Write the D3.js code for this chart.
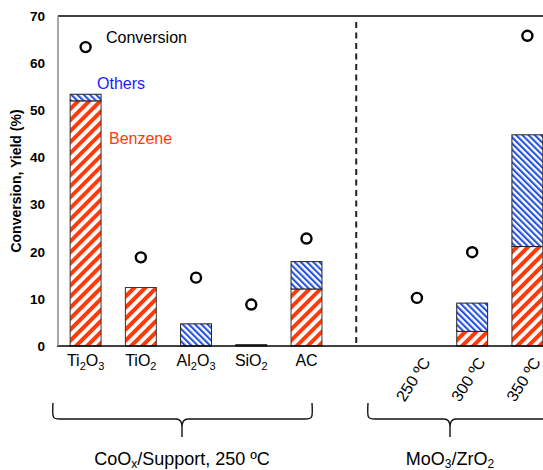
<!DOCTYPE html>
<html lang="en">
  <head>
    <meta charset="utf-8">
    <title>Conversion and yield</title>
    <style>
      body { margin: 0; background: #fff; }
      svg { display: block; font-family: Arial, "Liberation Sans", sans-serif; }
    </style>
  </head>
  <body>
    <div id="chart"></div>
  </body>
  <script src="https://cdnjs.cloudflare.com/ajax/libs/d3/7.8.5/d3.min.js"></script>
  <script type="text/javascript">

    // "_x" means a subscript character, the empty key is the gap before the dashed line
    const categories = ['Ti_2O_3', 'TiO_2', 'Al_2O_3', 'SiO_2', 'AC', '', '250 ºC', '300 ºC', '350 ºC']
    const rotatedLabels = ['250 ºC', '300 ºC', '350 ºC']
    const benzene    = [52.0, 12.4, 0,   0.3, 12.1, 0, 0,    3.1, 21.1]
    const others     = [1.4,  0,    4.7, 0,   5.8,  0, 0,    6.0, 23.7]
    const conversion = [63.4, 18.8, 14.5, 8.8, 22.8, null, 10.2, 19.9, 65.8]
    const yTicks = [0, 10, 20, 30, 40, 50, 60, 70]

    const width = 543, height = 470
    const plot = { left: 58, top: 16, right: 555, bottom: 346 }

    const svg = d3.select('#chart').append('svg')
      .attr('width', width)
      .attr('height', height)

    const defs = svg.append('defs')
    stripes('red-stripes', '#ff3a0a', 7.8, 4, 45)
    stripes('blue-stripes', '#2452dc', 4.4, 2.1, -45)

    const x = d3.scaleBand()
      .domain(categories)
      .range([plot.left, plot.right])
      .paddingInner(0.44)
      .paddingOuter(0.22)

    const y = d3.scaleLinear()
      .domain([0, 70])
      .range([plot.bottom, plot.top])

    const rows = categories.map((c, i) => ({
      name: c, benzene: benzene[i], others: others[i], conversion: conversion[i]
    }))

    // y tick labels (no tick marks in the original)
    svg.append('g').selectAll('text')
      .data(yTicks)
      .join('text')
      .attr('x', 45)
      .attr('y', d => y(d))
      .attr('dy', '0.36em')
      .attr('text-anchor', 'end')
      .style('font-size', '13.5px')
      .style('font-weight', 'bold')
      .text(d => d)

    svg.append('text')
      .attr('transform', `translate(21, ${(y(0) + y(70)) / 2}) rotate(-90)`)
      .attr('text-anchor', 'middle')
      .style('font-size', '14px')
      .style('font-weight', 'bold')
      .text('Conversion, Yield (%)')

    // frame
    svg.append('line')
      .attr('x1', plot.left).attr('x2', plot.right)
      .attr('y1', plot.top).attr('y2', plot.top)
      .attr('stroke', '#000').attr('stroke-width', 1.5)

    // stacked bars
    const bars = svg.append('g')
    bars.selectAll('.benzene')
      .data(rows.filter(d => d.benzene > 0))
      .join('rect')
      .attr('class', 'benzene')
      .attr('x', d => x(d.name))
      .attr('width', x.bandwidth())
      .attr('y', d => y(d.benzene))
      .attr('height', d => y(0) - y(d.benzene))
      .attr('fill', d => d.benzene < 1 ? '#8a5a50' : 'url(#red-stripes)')
      .attr('stroke', '#333')
      .attr('stroke-width', 1)

    bars.selectAll('.others')
      .data(rows.filter(d => d.others > 0))
      .join('rect')
      .attr('class', 'others')
      .attr('x', d => x(d.name))
      .attr('width', x.bandwidth())
      .attr('y', d => y(d.benzene + d.others))
      .attr('height', d => y(d.benzene) - y(d.benzene + d.others))
      .attr('fill', 'url(#blue-stripes)')
      .attr('stroke', '#222')
      .attr('stroke-width', 1)

    svg.append('line')
      .attr('x1', plot.left - 1).attr('x2', plot.right)
      .attr('y1', plot.bottom).attr('y2', plot.bottom)
      .attr('stroke', '#000').attr('stroke-width', 1.5)
    svg.append('line')
      .attr('x1', plot.left).attr('x2', plot.left)
      .attr('y1', plot.top).attr('y2', plot.bottom)
      .attr('stroke', '#8a8a8a').attr('stroke-width', 1.5)

    // dashed separator in the gap slot
    const gapX = x('') + x.bandwidth() / 2 - 5.5
    svg.append('line')
      .attr('x1', gapX).attr('x2', gapX)
      .attr('y1', plot.top + 6).attr('y2', plot.bottom)
      .attr('stroke', '#222')
      .attr('stroke-width', 2)
      .attr('stroke-dasharray', '6,4.5')

    // conversion markers
    svg.append('g').selectAll('circle')
      .data(rows.filter(d => d.conversion != null))
      .join('circle')
      .attr('cx', d => x(d.name) + x.bandwidth() / 2)
      .attr('cy', d => y(d.conversion))
      .attr('r', 5)
      .attr('fill', '#fff')
      .attr('stroke', '#000')
      .attr('stroke-width', 2.4)

    // series labels
    const seriesLabels = [
      { text: 'Conversion', color: '#000', x: 106, y: 43 },
      { text: 'Others', color: '#1a1aff', x: 97, y: 89 },
      { text: 'Benzene', color: '#ff3a0a', x: 109, y: 144 }
    ]
    svg.append('g').selectAll('text')
      .data(seriesLabels)
      .join('text')
      .attr('x', d => d.x)
      .attr('y', d => d.y)
      .attr('fill', d => d.color)
      .style('font-size', '16px')
      .text(d => d.text)

    // category labels
    const catG = svg.append('g')
    categories.filter(c => c && !rotatedLabels.includes(c)).forEach(c => {
      const t = catG.append('text')
        .attr('x', x(c) + x.bandwidth() / 2)
        .attr('y', 366)
        .attr('text-anchor', 'middle')
        .style('font-size', '16px')
      rich(t, c, 11, 4)
    })
    rotatedLabels.forEach(c => {
      catG.append('text')
        .attr('transform', `translate(${x(c) + x.bandwidth() / 2 + 14}, 362) rotate(-57)`)
        .attr('text-anchor', 'end')
        .style('font-size', '16px')
        .text(c)
    })

    // group braces
    const braces = [
      { x0: 53, x1: 312, xm: 182, label: 'CoO_x/Support, 250 ºC' },
      { x0: 368, x1: 575, xm: 450, label: 'MoO_3/ZrO_2' }
    ]
    const bTop = 403, bLine = 419, bTip = 437
    braces.forEach(b => {
      svg.append('path')
        .attr('d', `M${b.x0},${bTop} C${b.x0 - 1},${bLine} ${b.x0},${bLine} ${b.x0 + 7},${bLine}
          L${b.xm - 6},${bLine} Q${b.xm},${bLine} ${b.xm},${bLine + 8} L${b.xm},${bTip}
          M${b.xm},${bLine + 8} Q${b.xm},${bLine} ${b.xm + 6},${bLine}
          L${b.x1 - 7},${bLine} C${b.x1},${bLine} ${b.x1 + 1},${bLine} ${b.x1},${bTop}`)
        .attr('fill', 'none')
        .attr('stroke', '#111')
        .attr('stroke-width', 1.4)
      const t = svg.append('text')
        .attr('x', b.xm)
        .attr('y', 465)
        .attr('text-anchor', 'middle')
        .style('font-size', '18px')
      rich(t, b.label, 12, 3)
    })

    // helpers
    function stripes(id, color, period, band, angle) {
      const p = defs.append('pattern')
        .attr('id', id)
        .attr('patternUnits', 'userSpaceOnUse')
        .attr('width', period)
        .attr('height', period)
        .attr('patternTransform', `rotate(${angle})`)
      p.append('rect').attr('width', period).attr('height', period).attr('fill', '#fff')
      p.append('rect').attr('width', band).attr('height', period).attr('fill', color)
    }

    // splits "TiO_2" into tspans, the char after "_" is lowered and smaller
    function rich(textSel, str, subSize, shift) {
      let lowered = false
      str.split(/(_.)/).filter(s => s).forEach(part => {
        if (part[0] === '_') {
          textSel.append('tspan')
            .attr('dy', lowered ? 0 : shift)
            .style('font-size', subSize + 'px')
            .text(part[1])
          lowered = true
        } else {
          textSel.append('tspan')
            .attr('dy', lowered ? -shift : 0)
            .text(part)
          lowered = false
        }
      })
    }
  </script>
</html>
